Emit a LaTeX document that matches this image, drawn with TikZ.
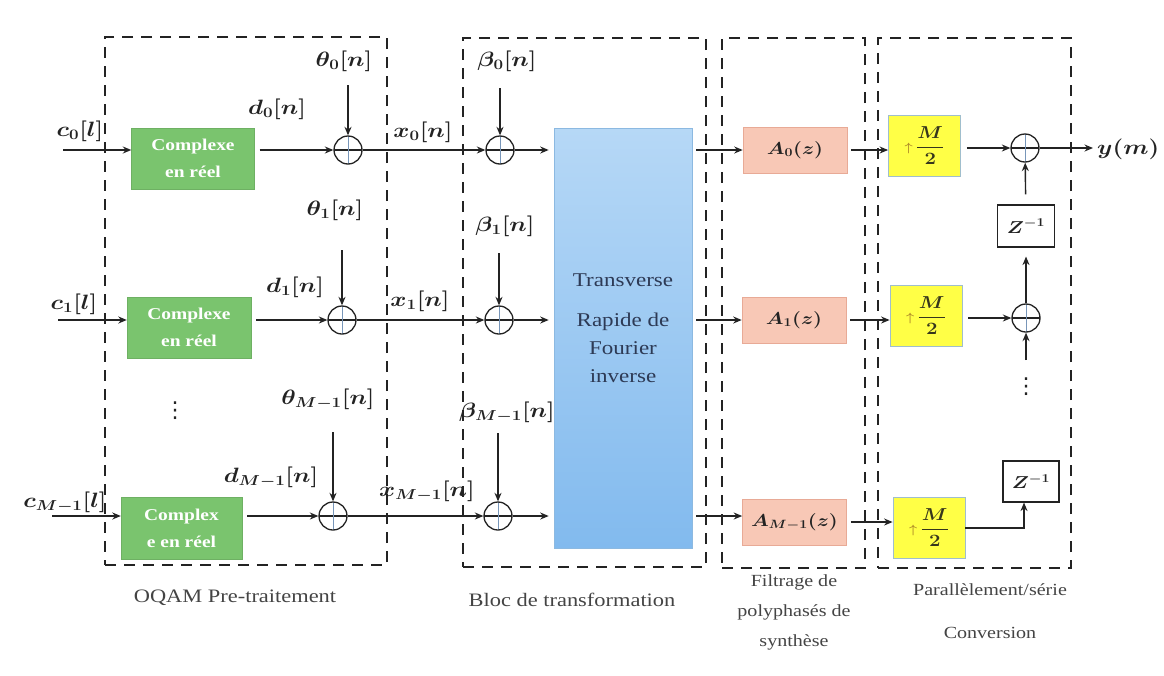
\documentclass[tikz,border=0pt]{standalone}
\usepackage{fontspec}
\setmainfont{Liberation Serif}
\newfontfamily\symfont{DejaVu Sans}
\usepackage{amsmath,bm}
\usetikzlibrary{arrows.meta}
\definecolor{boxgreen}{RGB}{122,196,110}
\definecolor{salmon}{RGB}{248,200,182}
\definecolor{salmonline}{RGB}{232,170,150}
\definecolor{ylw}{RGB}{255,255,70}
\definecolor{ylwline}{RGB}{160,190,205}
\definecolor{ffttop}{RGB}{182,216,246}
\definecolor{fftbot}{RGB}{130,186,238}
\definecolor{fftline}{RGB}{140,185,225}
\definecolor{ffttext}{RGB}{45,58,85}
\definecolor{ink}{RGB}{35,35,35}
\definecolor{gold}{RGB}{176,140,40}
\definecolor{crossline}{RGB}{120,150,185}
% horizontal widening used for every label
\newcommand\wx[1]{\scalebox{1.18}[1]{#1}}
% small up-sampling arrow inside the yellow boxes
\newcommand\upm{{\color{gold}\fontsize{13}{13}\selectfont$\uparrow$}\,$\dfrac{M}{2}$}
\begin{document}
\begin{tikzpicture}[x=1pt,y=-1pt,
  grp/.style={draw=ink, line width=2.3pt, dash pattern=on 11pt off 8pt,
    inner sep=0pt, fill=none},
  arr/.style={-{Stealth[length=8.5pt,width=7pt]}, line width=1.4pt, draw=ink},
  adder/.style={circle, draw=ink, line width=1.3pt, minimum size=28pt, inner sep=0pt,
    path picture={
      \draw[line width=1.3pt, ink] (path picture bounding box.west) -- (path picture bounding box.east);
      \draw[line width=0.7pt, crossline] (path picture bounding box.north) -- (path picture bounding box.south);}},
  lab/.style={font=\fontsize{20}{24}\selectfont\boldmath, text=ink, inner sep=1pt},
  conv/.style={fill=boxgreen, draw=boxgreen!90!black, line width=0.4pt, inner sep=0pt,
    text=white, align=center, font=\bfseries\fontsize{16.5}{27}\selectfont},
  filt/.style={fill=salmon, draw=salmonline, line width=0.6pt, inner sep=0pt,
    minimum width=104pt, minimum height=46pt, text=ink,
    font=\fontsize{18}{22}\selectfont\boldmath},
  up/.style={fill=ylw, draw=ylwline, line width=0.8pt, inner sep=0pt,
    minimum width=72pt, minimum height=61pt, text=ink!80!olive,
    font=\fontsize{17}{20}\selectfont\boldmath},
  dly/.style={fill=white, draw=ink, line width=1.1pt, inner sep=0pt,
    font=\fontsize{17}{20}\selectfont\boldmath, text=ink},
  dots/.style={font=\symfont\fontsize{22}{24}\selectfont, text=ink, inner sep=0pt},
  grpcap/.style={text=ink!85, align=center, inner sep=0pt}
]
\useasboundingbox[fill=white] (0,0) rectangle (1164,675);

% ---------- dashed groups ----------
\node[grp, minimum width=282pt, minimum height=528pt] (G1) at (246,301) {};
\node[grp, minimum width=243pt, minimum height=529pt] (G2) at (584.5,302.5) {};
\node[grp, minimum width=143pt, minimum height=530pt] (G3) at (793.5,303) {};
\node[grp, minimum width=193pt, minimum height=530pt] (G4) at (974.5,303) {};

% ---------- OQAM pre-processing ----------
\node[conv, minimum width=123pt, minimum height=61pt] (g0) at (193,158.5) {\wx{Complexe}\\\wx{en réel}};
\node[conv, minimum width=124pt, minimum height=61pt] (g1) at (189,327.5) {\wx{Complexe}\\\wx{en réel}};
\node[conv, minimum width=121pt, minimum height=62pt] (g2) at (181.5,528) {\wx{Complex}\\\wx{e en réel}};

\coordinate (ci0) at (63,150);
\coordinate (ci1) at (58,320);
\coordinate (ci2) at (52,516);
\node[lab] (c0) at (80,131) {\wx{$c_0[l]$}};
\node[lab] (c1) at (74,304) {\wx{$c_1[l]$}};
\node[lab] (c2) at (65,502) {\wx{$c_{M-1}[l]$}};
\draw[arr] (ci0) -- (g0.west |- ci0);
\draw[arr] (ci1) -- (g1.west |- ci1);
\draw[arr] (ci2) -- (g2.west |- ci2);

\node[adder] (a0) at (348,150) {};
\node[adder] (a1) at (342,320) {};
\node[adder] (a2) at (333,516) {};
\draw[arr, shorten <=5pt] (g0.east |- a0) -- (a0);
\draw[arr, shorten <=5pt] (g1.east |- a1) -- (a1);
\draw[arr, shorten <=5pt] (g2.east |- a2) -- (a2);

\node[lab] (th0) at (344,61) {\wx{$\theta_0[n]$}};
\node[lab] (th1) at (335,210) {\wx{$\theta_1[n]$}};
\node[lab] (th2) at (328,399) {\wx{$\theta_{M-1}[n]$}};
\coordinate (t0) at (348,85);
\coordinate (t1) at (342,250);
\coordinate (t2) at (333,432);
\draw[arr] (t0) -- (a0);
\draw[arr] (t1) -- (a1);
\draw[arr] (t2) -- (a2);

\node[lab] (d0) at (277,109) {\wx{$d_0[n]$}};
\node[lab] (d1) at (295,287) {\wx{$d_1[n]$}};
\node[lab] (d2) at (271,477) {\wx{$d_{M-1}[n]$}};

\node[dots] (vd) at (175,411) {⋮};

% ---------- transformation block ----------
\node[adder] (b0) at (500,150) {};
\node[adder] (b1) at (499,320) {};
\node[adder] (b2) at (498,516) {};
\draw[arr] (a0) -- (b0);
\draw[arr] (a1) -- (b1);
\draw[arr] (a2) -- (b2);

\node[lab] (x0) at (423,132) {\wx{$x_0[n]$}};
\node[lab] (x1) at (420,301) {\wx{$x_1[n]$}};
\node[lab] (x2) at (427,491) {\wx{$x_{M-1}[n]$}};

\node[lab] (be0) at (507,61) {\wx{$\beta_0[n]$}};
\node[lab] (be1) at (505,226) {\wx{$\beta_1[n]$}};
\node[lab] (be2) at (507,412) {\wx{$\beta_{M-1}[n]$}};
\coordinate (u0) at (500,88);
\coordinate (u1) at (499,253);
\coordinate (u2) at (498,433);
\draw[arr] (u0) -- (b0);
\draw[arr] (u1) -- (b1);
\draw[arr] (u2) -- (b2);

\node[top color=ffttop, bottom color=fftbot, draw=fftline, line width=0.6pt,
  minimum width=138pt, minimum height=420pt, inner sep=0pt] (fft) at (623,338) {};
\node[text=ffttext, align=center, font=\fontsize{19.5}{28}\selectfont] (fftl) at (623,328)
  {\wx{Transverse}\\[12pt]\wx{Rapide de}\\\wx{Fourier}\\\wx{inverse}};
\draw[arr, shorten >=5pt] (b0) -- (fft.west |- b0);
\draw[arr, shorten >=5pt] (b1) -- (fft.west |- b1);
\draw[arr, shorten >=5pt] (b2) -- (fft.west |- b2);

% ---------- synthesis polyphase filters ----------
\node[filt] (A0) at (795,150) {\wx{$A_0(z)$}};
\node[filt] (A1) at (794,320) {\wx{$A_1(z)$}};
\node[filt] (A2) at (794.5,522) {\wx{$A_{M-1}(z)$}};
\draw[arr, shorten <=4pt] (fft.east |- b0) -- (A0.west |- b0);
\draw[arr, shorten <=4pt] (fft.east |- b1) -- (A1.west |- b1);
\draw[arr, shorten <=4pt] (fft.east |- b2) -- (A2.west |- b2);

% ---------- parallel / serial conversion ----------
\node[up] (Y0) at (924.5,145.5) {\wx{\upm}};
\node[up] (Y1) at (926,316) {\wx{\upm}};
\node[up] (Y2) at (929,528) {\wx{\upm}};
\draw[arr, shorten <=4pt] (A0.east) -- (Y0.west |- A0);
\draw[arr, shorten <=4pt] (A1.east) -- (Y1.west |- A1);
\draw[arr, shorten <=4pt] (A2.east) -- (Y2.west |- A2);

\node[adder] (S0) at (1025,148) {};
\node[adder] (S1) at (1026,318) {};
\draw[arr, shorten <=6pt] (Y0.east |- S0) -- (S0);
\draw[arr, shorten <=6pt] (Y1.east |- S1) -- (S1);

\coordinate (yo) at (1093,148);
\draw[arr] (S0) -- (yo);
\node[lab, anchor=west] (ym) at (1096,149) {\wx{$y(m)$}};

\node[dly, minimum width=57pt, minimum height=42pt] (Z1) at (1026,226) {\wx{$Z^{-1}$}};
\node[dly, minimum width=56pt, minimum height=41pt] (Z2) at (1031,481.5) {\wx{$Z^{-1}$}};
\draw[arr, shorten <=10pt] (Z1) -- (S0);
\draw[arr, shorten >=9pt] (S1) -- (Z1);

\coordinate (sd) at (1026,360);
\draw[arr] (sd) -- (S1);
\node[dots] (vd2) at (1026,387) {⋮};

\coordinate (zin) at (1024,0);
\draw[arr] (Y2.east) -| (zin |- Z2.south);

% ---------- group captions ----------
\node[grpcap, font=\fontsize{19}{28}\selectfont] (cap1) at (235,598) {\wx{OQAM Pre-traitement}};
\node[grpcap, font=\fontsize{19}{28}\selectfont] (cap2) at (572,600) {\wx{Bloc de transformation}};
\node[grpcap, font=\fontsize{17}{30}\selectfont] (cap3) at (794,612)
  {\wx{Filtrage de}\\\wx{polyphasés de}\\\wx{synthèse}};
\node[grpcap, font=\fontsize{17}{43}\selectfont] (cap4) at (990,611)
  {\wx{Parallèlement/série}\\\wx{Conversion}};
\end{tikzpicture}
\end{document}
